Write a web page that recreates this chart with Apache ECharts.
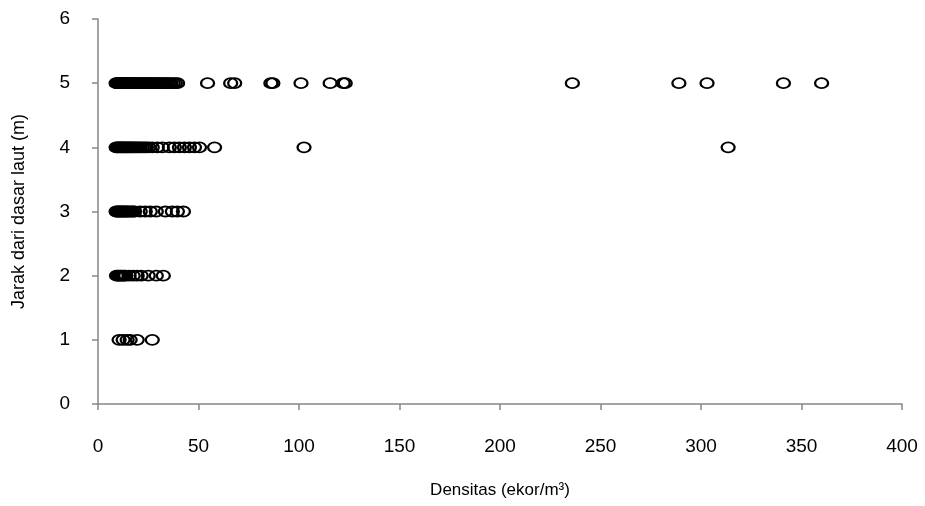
<!DOCTYPE html>
<html>
<head>
<meta charset="utf-8">
<script src="https://cdn.jsdelivr.net/npm/echarts@6/dist/echarts.min.js"></script>
<style>
  html, body { margin: 0; padding: 0; background: #fff; }
  #chart { width: 925px; height: 506px; }
</style>
</head>
<body>
<div id="chart"></div>
<script>
// densitas per kedalaman (jarak dari dasar laut)
var row5 = [9, 9.4, 9.8, 10.2, 10.5, 11, 11.3, 11.8, 12.2, 12.7, 13, 13.6, 14.1, 14.5, 15, 15.4, 16, 16.7, 17.2, 17.8,
    18.3, 19, 19.5, 20.2, 20.8, 21.5, 22, 22.9, 23.5, 24.2, 25, 25.6, 26.3, 27, 27.8, 28.5, 29.3, 30.1, 31, 31.8,
    32.6, 33.5, 34.4, 35.3, 36.2, 37.4, 38.5, 39.6, 54.5, 66, 68, 86, 87, 101, 115.5, 122, 123, 236, 289, 303, 341, 360];
var row4 = [9, 9.5, 10, 10.6, 11.1, 11.7, 12.2, 12.8, 13.3, 14, 14.5, 15.2, 15.8, 16.5, 17.1, 17.9, 18.6, 19.4,
    20.2, 21, 22, 23, 24.1, 25.3, 27, 29.5, 32, 35.5, 38, 40.5, 43, 45.5, 48, 50.5, 58, 102.5, 313.5];
var row3 = [9, 9.5, 10, 10.6, 11.2, 11.8, 12.4, 13, 13.7, 14.3, 15, 15.8, 16.6, 17.5, 18.2, 21, 23.5, 26, 29,
    33.5, 37, 39.5, 42.5];
var row2 = [9.2, 9.8, 10.4, 11, 11.6, 12.3, 13, 13.8, 15.5, 17.5, 19.5, 21.5, 25, 29, 32.5];
var row1 = [10.5, 12.5, 14.5, 16, 19.5, 27];

var rows = [[1, row1], [2, row2], [3, row3], [4, row4], [5, row5]];
var points = [];
rows.forEach(function (r) {
    r[1].forEach(function (v) { points.push([v, r[0]]); });
});

var chart = echarts.init(document.getElementById('chart'));
var axisGray = '#868686';
var font = 'Liberation Sans';

chart.setOption({
    animation: false,
    grid: {
        left: 98,
        right: 23,
        top: 19,
        bottom: 102
    },
    xAxis: {
        type: 'value',
        min: 0,
        max: 400,
        interval: 50,
        name: 'Densitas (ekor/m³)',
        nameLocation: 'middle',
        nameGap: 78,
        nameTextStyle: { fontFamily: font, fontSize: 17, color: '#000' },
        axisLine: { lineStyle: { color: axisGray, width: 1.5 } },
        axisTick: { show: true, length: 6, lineStyle: { color: axisGray, width: 1.5 } },
        axisLabel: { margin: 33, fontFamily: font, fontSize: 19, color: '#000' },
        splitLine: { show: false }
    },
    yAxis: {
        type: 'value',
        min: 0,
        max: 6,
        interval: 1,
        name: 'Jarak dari dasar laut (m)',
        nameLocation: 'middle',
        nameGap: 70,
        nameTextStyle: { fontFamily: font, fontSize: 18, color: '#000' },
        axisLine: { show: true, lineStyle: { color: axisGray, width: 1.5 } },
        axisTick: { show: true, length: 6, lineStyle: { color: axisGray, width: 1.5 } },
        axisLabel: { margin: 28, fontFamily: font, fontSize: 19, color: '#000' },
        splitLine: { show: false }
    },
    series: [
        {
            type: 'scatter',
            data: points,
            symbol: 'circle',
            symbolSize: [13, 10],
            itemStyle: {
                color: 'transparent',
                borderColor: '#000',
                borderWidth: 2,
                opacity: 1
            }
        }
    ]
});
</script>
</body>
</html>
